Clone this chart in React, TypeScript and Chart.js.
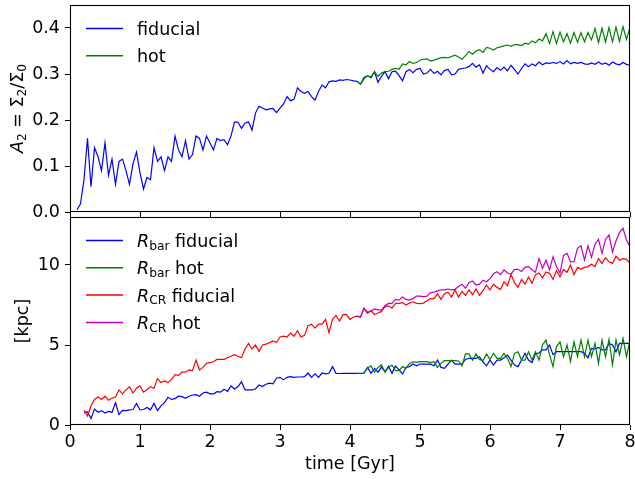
import React, { useEffect, useRef } from 'react';
import { Chart, registerables } from 'chart.js';

Chart.register(...registerables);

// ---------------- data ----------------
const DT = 0.05; // sampling step in Gyr
const xTicks = [0, 1, 2, 3, 4, 5, 6, 7, 8];
const a2Ticks = [0, 0.1, 0.2, 0.3, 0.4];
const kpcTicks = [0, 5, 10];

const a2FidStart = 0.1;
const a2Fiducial = [
  0.005, 0.018, 0.07, 0.16, 0.055, 0.14, 0.12, 0.09, 0.15, 0.08, 0.115, 0.06, 0.11, 0.115, 0.09, 0.06, 0.105, 0.13, 0.085,
  0.05, 0.075, 0.07, 0.14, 0.11, 0.12, 0.09, 0.12, 0.11, 0.165, 0.135, 0.12, 0.155, 0.115, 0.125, 0.165, 0.16, 0.135, 0.165, 0.15,
  0.135, 0.16, 0.155, 0.157, 0.146, 0.165, 0.196, 0.195, 0.182, 0.193, 0.196, 0.178, 0.215, 0.23, 0.226, 0.222, 0.224, 0.225, 0.216, 0.226,
  0.235, 0.251, 0.242, 0.245, 0.27, 0.262, 0.258, 0.262, 0.251, 0.243, 0.262, 0.276, 0.27, 0.283, 0.285, 0.284, 0.287, 0.286, 0.288, 0.287,
  0.285, 0.284, 0.278, 0.29, 0.296, 0.292, 0.305, 0.282, 0.295, 0.305, 0.29, 0.305, 0.306, 0.297, 0.285, 0.305, 0.31, 0.303, 0.31, 0.312,
  0.3, 0.302, 0.31, 0.301, 0.306, 0.298, 0.308, 0.31, 0.298, 0.3, 0.31, 0.312, 0.313, 0.316, 0.323, 0.315, 0.32, 0.302, 0.318, 0.31,
  0.305, 0.314, 0.308, 0.315, 0.307, 0.319, 0.31, 0.3, 0.312, 0.322, 0.316, 0.322, 0.318, 0.326, 0.32, 0.324, 0.323, 0.325, 0.323, 0.327,
  0.322, 0.329, 0.322, 0.325, 0.323, 0.325, 0.322, 0.321, 0.324, 0.321, 0.326, 0.321, 0.324, 0.319, 0.326, 0.322, 0.32, 0.325, 0.321, 0.319,
];

const hotStart = 4.1;
const a2Hot = [
  0.284, 0.278, 0.293, 0.296, 0.294, 0.305, 0.295, 0.302, 0.305, 0.306, 0.31, 0.312, 0.31, 0.322, 0.32, 0.327, 0.323, 0.325, 0.33,
  0.332, 0.333, 0.328, 0.33, 0.333, 0.335, 0.336, 0.335, 0.338, 0.341, 0.337, 0.332, 0.34, 0.349, 0.343, 0.35, 0.353, 0.347, 0.358, 0.356,
  0.352, 0.357, 0.359, 0.361, 0.363, 0.36, 0.364, 0.364, 0.362, 0.367, 0.365, 0.372, 0.368, 0.376, 0.372, 0.388, 0.366, 0.392, 0.366, 0.391,
  0.37, 0.388, 0.367, 0.39, 0.369, 0.39, 0.37, 0.39, 0.374, 0.399, 0.368, 0.4, 0.369, 0.401, 0.37, 0.402, 0.371, 0.403, 0.375, 0.402,
];

const rFidStart = 0.2;
const rbarFiducial = [
  0.77, 0.82, 0.4, 1.0, 0.8, 0.9, 0.75, 0.85, 0.8, 1.4, 0.65, 0.92, 0.9, 0.95, 0.97, 1.35, 0.94,
  0.97, 1.1, 0.95, 1.35, 0.9, 1.2, 1.4, 1.73, 1.6, 1.65, 1.8, 1.77, 1.67, 1.8, 1.875, 1.9, 1.8, 2.0, 2.05, 1.95,
  1.95, 2.08, 2.05, 2.23, 2.1, 2.44, 2.25, 2.4, 2.7, 2.2, 2.2, 2.2, 2.25, 2.5, 2.4, 2.55, 2.62, 2.58, 2.92, 2.98,
  2.82, 2.98, 3.02, 2.98, 3.0, 3.0, 3.02, 3.25, 2.98, 3.2, 2.98, 3.25, 3.2, 3.23, 3.65, 3.23, 3.22, 3.23, 3.23, 3.23,
  3.23, 3.23, 3.22, 3.24, 3.6, 3.23, 3.54, 3.3, 3.62, 3.33, 3.68, 3.23, 3.68, 3.45, 3.19, 3.6, 3.65, 3.81, 3.7, 3.81,
  3.81, 3.81, 3.8, 3.7, 4.06, 3.6, 3.54, 3.81, 4.06, 3.81, 3.81, 3.82, 4.1, 4.17, 4.17, 4.17, 4.27, 3.95, 3.7, 4.06,
  3.75, 4.06, 4.06, 4.2, 4.375, 4.06, 3.75, 3.65, 4.06, 4.48, 4.06, 3.9, 4.45, 4.5, 4.7, 4.7, 5.0, 4.4, 4.58, 4.58,
  4.58, 4.58, 4.58, 4.58, 4.58, 4.58, 4.48, 4.2, 4.79, 4.75, 4.85, 4.69, 4.69, 5.1, 5.0, 4.58, 5.1, 5.1, 5.1, 5.1,
];

const rbarHot = [
  3.23, 3.23, 3.25, 3.55, 3.69, 3.3, 3.6, 3.75, 3.3, 3.6, 3.75, 3.4, 3.4, 3.65, 3.55, 3.85, 3.95, 3.92, 3.96,
  3.96, 3.96, 3.9, 3.96, 3.6, 3.85, 4.02, 4.02, 4.02, 4.02, 4.0, 3.7, 4.44, 4.44, 4.05, 4.44, 4.1, 4.02, 4.44, 4.1,
  4.48, 4.17, 4.17, 4.48, 4.17, 3.65, 4.48, 4.58, 4.06, 4.06, 4.58, 4.06, 4.58, 4.06, 5.0, 5.31, 4.4, 3.65, 4.9, 5.2,
  4.27, 5.0, 3.96, 5.2, 4.27, 5.31, 4.27, 5.31, 4.27, 5.1, 3.85, 5.31, 4.27, 5.35, 3.75, 5.31, 4.38, 5.42, 4.27, 5.31,
];

const rcrFiducial = [
  0.94, 0.56, 1.2, 1.6, 1.75, 1.6, 1.8, 1.55, 1.67, 1.75, 2.19, 1.95, 2.2, 2.4, 2.0, 2.3, 2.45,
  2.05, 2.2, 2.4, 2.3, 2.9, 2.65, 2.75, 2.65, 2.85, 3.15, 3.1, 3.3, 3.3, 3.45, 3.4, 4.06, 3.44, 3.6, 3.85, 3.9,
  3.95, 4.1, 4.1, 4.1, 4.2, 4.3, 4.4, 4.3, 4.2, 4.75, 5.1, 4.75, 5.0, 4.6, 5.0, 5.05, 5.15, 5.25, 5.15, 5.5,
  5.55, 5.5, 5.75, 5.55, 5.9, 5.5, 5.6, 6.2, 6.3, 6.05, 6.3, 6.3, 6.6, 5.77, 6.6, 6.85, 6.5, 6.9, 6.9, 6.6,
  6.75, 6.8, 6.75, 7.29, 6.98, 7.15, 6.9, 7.0, 7.1, 7.4, 7.45, 7.3, 7.6, 7.6, 7.65, 7.5, 7.62, 7.7, 7.6, 7.58,
  7.62, 7.77, 7.9, 7.9, 8.2, 7.85, 8.2, 8.3, 8.0, 8.45, 8.0, 8.35, 8.1, 8.45, 8.15, 8.5, 8.1, 8.4, 8.75, 8.44,
  8.8, 8.6, 8.48, 8.95, 8.7, 9.4, 8.9, 8.6, 9.1, 8.8, 9.25, 8.85, 9.4, 9.5, 9.2, 9.56, 9.48, 9.1, 9.65, 9.25,
  9.72, 9.55, 10.0, 9.4, 9.85, 9.75, 9.85, 9.9, 10.05, 9.9, 10.4, 10.1, 10.45, 10.2, 10.1, 10.55, 10.3, 10.4, 10.35, 10.1,
];

const rcrHot = [
  6.8, 6.75, 7.29, 7.05, 7.12, 7.25, 7.2, 7.2, 7.45, 7.6, 7.6, 7.85, 7.8, 8.0, 7.85, 7.81, 7.9, 8.06, 8.05,
  8.02, 8.05, 8.27, 8.3, 8.38, 8.45, 8.45, 8.5, 8.45, 8.48, 8.65, 8.8, 8.55, 8.9, 9.0, 8.75, 8.8, 9.05, 8.95, 9.15,
  9.45, 9.58, 9.4, 9.69, 9.5, 9.44, 9.73, 9.73, 9.6, 9.85, 9.9, 9.7, 9.55, 10.4, 9.79, 10.3, 9.7, 10.52, 9.9, 9.5,
  10.6, 10.73, 10.2, 10.21, 11.04, 11.2, 10.31, 11.2, 10.48, 11.3, 11.6, 10.73, 11.6, 11.875, 10.8, 11.5, 12.02, 12.29, 11.56, 11.15,
];

type Part = { t: string; it?: boolean; sub?: boolean };

const topLegend: { color: string; parts: Part[] }[] = [
  { color: '#0000ff', parts: [{ t: 'fiducial' }] },
  { color: '#008000', parts: [{ t: 'hot' }] },
];
const bottomLegend: { color: string; parts: Part[] }[] = [
  { color: '#0000ff', parts: [{ t: 'R', it: true }, { t: 'bar', sub: true }, { t: ' fiducial' }] },
  { color: '#008000', parts: [{ t: 'R', it: true }, { t: 'bar', sub: true }, { t: ' hot' }] },
  { color: '#ff0000', parts: [{ t: 'R', it: true }, { t: 'CR', sub: true }, { t: ' fiducial' }] },
  { color: '#bf00bf', parts: [{ t: 'R', it: true }, { t: 'CR', sub: true }, { t: ' hot' }] },
];
const topYLabel: Part[] = [
  { t: 'A', it: true }, { t: '2', sub: true }, { t: ' = ' }, { t: 'Σ' }, { t: '2', sub: true }, { t: '/Σ' }, { t: '0', sub: true },
];
const bottomYLabel: Part[] = [{ t: '[kpc]' }];
const xLabel = 'time [Gyr]';

// ---------------- helpers ----------------
const FAMILY = "'DejaVu Sans', sans-serif";
const FS = 17.5;
const LW = 1.2;

const toPts = (start: number, arr: number[]) =>
  arr.map((y, i) => ({ x: Math.round((start + i * DT) * 100) / 100, y }));

function partFont(p: Part, size: number) {
  return `${p.it ? 'italic ' : ''}${p.sub ? size * 0.7 : size}px ${FAMILY}`;
}

function drawParts(ctx: CanvasRenderingContext2D, parts: Part[], x: number, y: number, size: number, center: boolean) {
  let total = 0;
  for (const p of parts) {
    ctx.font = partFont(p, size);
    total += ctx.measureText(p.t).width;
  }
  let cx = center ? x - total / 2 : x;
  ctx.textAlign = 'left';
  ctx.textBaseline = 'alphabetic';
  ctx.fillStyle = '#000';
  for (const p of parts) {
    ctx.font = partFont(p, size);
    ctx.fillText(p.t, cx, y + (p.sub ? size * 0.17 : 0));
    cx += ctx.measureText(p.t).width;
  }
}

function decorPlugin(legend: { color: string; parts: Part[] }[], yLabel: Part[], yLabelX: number) {
  return {
    id: 'decor',
    afterDatasetsDraw(chart: any) {
      const { ctx, chartArea } = chart;
      const { left, top, right, bottom } = chartArea;
      ctx.save();
      // frame
      ctx.strokeStyle = '#000';
      ctx.lineWidth = 1.1;
      ctx.strokeRect(left + 0.5, top + 0.5, right - left - 1, bottom - top - 1);
      // legend
      legend.forEach((e, i) => {
        const y = top + 23.5 + i * 27.3;
        ctx.strokeStyle = e.color;
        ctx.lineWidth = LW + 0.3;
        ctx.beginPath();
        ctx.moveTo(left + 16, y);
        ctx.lineTo(left + 53, y);
        ctx.stroke();
        drawParts(ctx, e.parts, left + 67, y + 6.4, FS, false);
      });
      // y label
      ctx.translate(yLabelX, (top + bottom) / 2);
      ctx.rotate(-Math.PI / 2);
      drawParts(ctx, yLabel, 0, 0, FS, true);
      ctx.restore();
    },
  };
}

const tickFont = { family: FAMILY, size: FS };
const gridCfg = { drawOnChartArea: false, drawTicks: true, tickLength: 5, color: '#000', lineWidth: 1 };

function lineDs(label: string, data: { x: number; y: number }[], color: string, order: number) {
  return {
    label,
    data,
    borderColor: color,
    backgroundColor: color,
    borderWidth: LW,
    pointRadius: 0,
    tension: 0,
    fill: false,
    order,
  };
}

export default function App() {
  const topRef = useRef<HTMLCanvasElement>(null);
  const botRef = useRef<HTMLCanvasElement>(null);

  useEffect(() => {
    const xScale = (showLabels: boolean, height: number) => ({
      type: 'linear',
      min: 0,
      max: 8,
      afterBuildTicks: (s: any) => {
        s.ticks = xTicks.map((v) => ({ value: v }));
      },
      ticks: { display: showLabels, autoSkip: false, padding: 2, color: '#000', font: tickFont, maxRotation: 0, callback: (v: any) => String(v) },
      grid: gridCfg,
      border: { display: false },
      title: showLabels
        ? { display: true, text: xLabel, color: '#000', font: tickFont, padding: { top: 0, bottom: 0 } }
        : { display: false },
      afterFit: (s: any) => {
        s.height = height;
        s.paddingLeft = 0;
        s.paddingRight = 0;
      },
    });

    const c1 = new Chart(topRef.current as HTMLCanvasElement, {
      type: 'line',
      data: {
        datasets: [
          lineDs('fiducial', toPts(a2FidStart, a2Fiducial), '#0000ff', 2),
          lineDs('hot', toPts(hotStart, a2Hot), '#008000', 1),
        ],
      },
      options: {
        animation: false,
        responsive: false,
        devicePixelRatio: 1,
        layout: { padding: { top: 5, right: 5, left: 0, bottom: 0 } },
        plugins: { legend: { display: false }, tooltip: { enabled: false } },
        events: [],
        scales: {
          x: xScale(false, 5) as any,
          y: {
            min: 0,
            max: 0.45,
            afterBuildTicks: (s: any) => {
              s.ticks = a2Ticks.map((v) => ({ value: v }));
            },
            ticks: { padding: 5, color: '#000', font: tickFont, callback: (v: any) => Number(v).toFixed(1) },
            grid: gridCfg,
            border: { display: false },
            afterFit: (s: any) => {
              s.width = 70;
              s.paddingTop = 0;
              s.paddingBottom = 0;
            },
          },
        },
      } as any,
      plugins: [decorPlugin(topLegend, topYLabel, 23)],
    });

    const c2 = new Chart(botRef.current as HTMLCanvasElement, {
      type: 'line',
      data: {
        datasets: [
          lineDs('Rbar fiducial', toPts(rFidStart, rbarFiducial), '#0000ff', 4),
          lineDs('Rbar hot', toPts(hotStart, rbarHot), '#008000', 3),
          lineDs('RCR fiducial', toPts(rFidStart, rcrFiducial), '#ff0000', 2),
          lineDs('RCR hot', toPts(hotStart, rcrHot), '#bf00bf', 1),
        ],
      },
      options: {
        animation: false,
        responsive: false,
        devicePixelRatio: 1,
        layout: { padding: { top: 4, right: 5, left: 0, bottom: 4 } },
        plugins: { legend: { display: false }, tooltip: { enabled: false } },
        events: [],
        scales: {
          x: xScale(true, 50) as any,
          y: {
            min: 0,
            max: 13,
            afterBuildTicks: (s: any) => {
              s.ticks = kpcTicks.map((v) => ({ value: v }));
            },
            ticks: { padding: 5, color: '#000', font: tickFont, callback: (v: any) => String(v) },
            grid: gridCfg,
            border: { display: false },
            afterFit: (s: any) => {
              s.width = 70;
              s.paddingTop = 0;
              s.paddingBottom = 0;
            },
          },
        },
      } as any,
      plugins: [decorPlugin(bottomLegend, bottomYLabel, 28)],
    });

    return () => {
      c1.destroy();
      c2.destroy();
    };
  }, []);

  return (
    <div style={{ position: 'fixed', left: 0, top: 0, width: 635, height: 479, background: '#fff' }}>
      <canvas ref={topRef} width={635} height={217} style={{ position: 'absolute', left: 0, top: 0, width: 635, height: 217 }} />
      <canvas ref={botRef} width={635} height={266} style={{ position: 'absolute', left: 0, top: 213, width: 635, height: 266 }} />
    </div>
  );
}
